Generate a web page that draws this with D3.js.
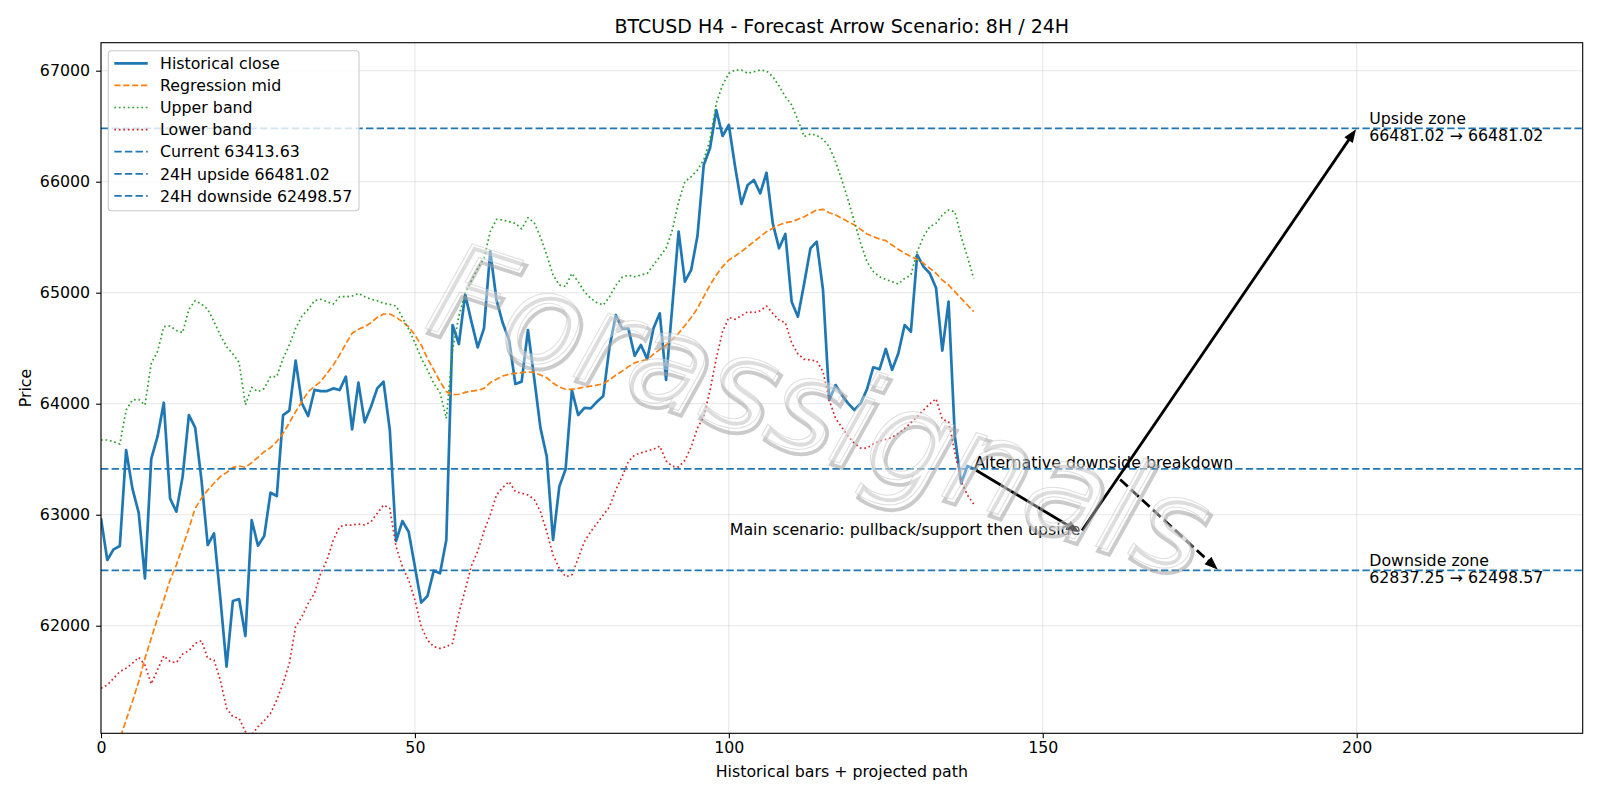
<!DOCTYPE html>
<html>
<head>
<meta charset="utf-8">
<script src="https://cdn.jsdelivr.net/npm/d3@7"></script>
<style>
  body { margin: 0; background: #fff; }
  text { font-family: "DejaVu Sans", sans-serif; }
</style>
</head>
<body>
<svg id="chart" width="1600" height="800"></svg>
<script>
// values
const closes = [62967,62592,62688,62718,63583,63237,63018,62427,63502,63703,
  64009,63147,63027,63343,63898,63784,63313,62727,62832,62253,
  61631,62222,62240,61907,62952,62721,62808,63198,63168,63898,
  63937,64388,64003,63889,64124,64114,64114,64138,64123,64244,
  63769,64190,63832,63973,64138,64198,63763,62763,62943,62847,
  62532,62208,62268,62496,62472,62772,64709,64538,64985,64739,
  64508,64679,65370,64934,64724,64574,64178,64199,64664,64229,
  63780,63523,62772,63253,63410,64123,63898,63962,63958,64018,
  64070,64514,64799,64676,64676,64432,64529,64402,64679,64814,
  64214,64880,65550,65100,65205,65510,66150,66301,66646,66412,
  66511,66135,65799,65970,66015,65895,66081,65625,65400,65529,
  64919,64784,65084,65400,65460,65024,64033,64168,64078,64003,
  63943,64003,64130,64328,64310,64493,64304,64454,64709,64649,
  65340,65235,65175,65045,64478,64919,63703,63283,63439,63413.63];

const mids = [60470,60640,60810,60980,61150,61316,61496,61706,61886,62066,
  62232,62412,62547,62712,62877,63057,63147,63222,63283,63343,
  63379,63427,63439,63427,63469,63517,63568,63604,63658,63733,
  63829,63928,64018,64108,64155,64199,64274,64349,64439,64540,
  64634,64670,64694,64730,64778,64808,64808,64778,64739,64694,
  64619,64529,64409,64304,64199,64109,64082,64085,64102,64114,
  64120,64138,64190,64220,64250,64266,64274,64280,64286,64282,
  64258,64234,64186,64150,64130,64130,64138,64150,64158,64167,
  64180,64214,64258,64293,64334,64368,64386,64397,64446,64487,
  64529,64577,64634,64704,64776,64859,64964,65069,65159,65235,
  65295,65331,65370,65415,65460,65505,65550,65580,65610,65631,
  65640,65661,65685,65715,65745,65751,65721,65700,65670,65640,
  65610,65571,65529,65505,65484,65469,65430,65391,65355,65325,
  65301,65265,65220,65175,65114,65069,65009,64949,64889,64829];

const uppers = [63673,63673,63658,63637,63943,64033,64039,63988,64364,64469,
  64694,64700,64660,64640,64850,64928,64898,64850,64739,64619,
  64514,64448,64370,63990,64147,64108,64138,64244,64244,64409,
  64529,64679,64790,64850,64928,64940,64919,64898,64964,64964,
  64970,64994,64964,64940,64928,64904,64895,64880,64778,64673,
  64550,64409,64304,64184,64099,63868,64484,64790,64994,65108,
  65220,65310,65550,65661,65655,65640,65625,65574,65676,65631,
  65500,65340,65160,65069,65057,65174,65099,65009,64949,64910,
  64889,64964,65065,65138,65159,65144,65159,65174,65250,65325,
  65400,65565,65820,66000,66045,66105,66195,66376,66706,66871,
  66976,67006,67006,66976,66991,67006,66997,66946,66862,66766,
  66691,66556,66406,66430,66418,66382,66316,66180,66015,65835,
  65640,65445,65280,65190,65144,65120,65099,65078,65129,65159,
  65370,65505,65595,65625,65700,65745,65730,65505,65325,65129];

const lowers = [61436,61466,61526,61586,61616,61661,61715,61646,61475,61601,
  61730,61676,61667,61745,61775,61841,61865,61706,61691,61511,
  61256,61181,61166,61045,61015,61090,61144,61210,61331,61481,
  61661,61991,62081,62201,62292,62472,62592,62772,62892,62907,
  62907,62916,62907,62937,63012,63087,63057,62712,62532,62412,
  62232,61991,61871,61811,61796,61811,61841,62111,62322,62540,
  62670,62850,63000,63178,63246,63298,63208,63193,63178,63138,
  63027,62847,62637,62517,62442,62457,62607,62757,62847,62922,
  62997,63072,63223,63343,63480,63538,63557,63575,63590,63619,
  63485,63436,63430,63490,63610,63780,63883,64120,64409,64649,
  64778,64760,64793,64829,64820,64838,64880,64814,64754,64730,
  64550,64448,64400,64394,64385,64289,64030,63868,63787,63709,
  63643,63600,63600,63637,63664,63679,63697,63733,63775,63829,
  63883,63943,63997,64045,63859,63838,63560,63298,63177,63096];

const levelNames = ["Current", "24H upside", "24H downside"];
const levelValues = [63413.63, 66481.02, 62498.57];

// projected path (bar index, price)
const mainPath = [[139, 63413.63], [156, 62837.25], [200, 66481.02]];
const altPath = [[162, 63334], [178, 62498.57]];

const xTicks = [0, 50, 100, 150, 200];
const yTicks = [62000, 63000, 64000, 65000, 66000, 67000];
const xDomain = [0, 236];
const yDomain = [61030.7, 67252.3];

const title = "BTCUSD H4 - Forecast Arrow Scenario: 8H / 24H";
const watermark = "Forassignals";

const pL = 101, pR = 1582.7, pT = 42.7, pB = 733.3;
const fs = 15.8;

const svg = d3.select("#chart");
const x = d3.scaleLinear().domain(xDomain).range([pL, pR]);
const y = d3.scaleLinear().domain(yDomain).range([pB, pT]);

svg.append("rect").attr("width", 1600).attr("height", 800).attr("fill", "#fff");

svg.append("defs").append("clipPath").attr("id", "plot")
  .append("rect")
  .attr("x", pL).attr("y", pT)
  .attr("width", pR - pL).attr("height", pB - pT);

// grid
const grid = svg.append("g").attr("stroke", "#b0b0b0").attr("stroke-opacity", 0.3).attr("stroke-width", 1.1);
grid.selectAll(".gx").data(xTicks).join("line")
  .attr("x1", d => x(d)).attr("x2", d => x(d)).attr("y1", pT).attr("y2", pB);
grid.selectAll(".gy").data(yTicks).join("line")
  .attr("x1", pL).attr("x2", pR).attr("y1", d => y(d)).attr("y2", d => y(d));

const plot = svg.append("g").attr("clip-path", "url(#plot)");

const line = d3.line().x((d, i) => x(i)).y(d => y(d));

const series = [
  {data: closes, color: "#1f77b4", width: 2.7, dash: null},
  {data: mids, color: "#ff7f0e", width: 1.7, dash: "6.2,2.7"},
  {data: uppers, color: "#2ca02c", width: 1.7, dash: "1.7,2.8"},
  {data: lowers, color: "#d62728", width: 1.7, dash: "1.7,2.8"}
];
series.forEach(s => {
  plot.append("path")
    .attr("d", line(s.data))
    .attr("fill", "none")
    .attr("stroke", s.color)
    .attr("stroke-width", s.width)
    .attr("stroke-linejoin", "round")
    .attr("stroke-dasharray", s.dash);
});

// horizontal levels
plot.selectAll(".lvl").data(levelValues).join("line")
  .attr("x1", pL).attr("x2", pR)
  .attr("y1", d => y(d)).attr("y2", d => y(d))
  .attr("stroke", "#1f77b4").attr("stroke-width", 1.7)
  .attr("stroke-dasharray", "7.4,3.2");

// arrows
function arrow(p0, p1, dashed) {
  let x0 = x(p0[0]), y0 = y(p0[1]), x1 = x(p1[0]), y1 = y(p1[1]);
  const len = Math.hypot(x1 - x0, y1 - y0);
  const ux = (x1 - x0) / len, uy = (y1 - y0) / len;
  x0 += ux * 2.8; y0 += uy * 2.8;
  x1 -= ux * 2.8; y1 -= uy * 2.8;
  const hl = 11, hw = 4.2;
  const bx = x1 - ux * hl, by = y1 - uy * hl;
  plot.append("line")
    .attr("x1", x0).attr("y1", y0).attr("x2", bx + ux * 1).attr("y2", by + uy * 1)
    .attr("stroke", "#000").attr("stroke-width", 2.8)
    .attr("stroke-dasharray", dashed ? "10.4,4.5" : null);
  plot.append("path")
    .attr("d", `M${x1},${y1}L${bx - uy * hw},${by + ux * hw}L${bx + uy * hw},${by - ux * hw}Z`)
    .attr("fill", "#000").attr("stroke", "#000").attr("stroke-width", 1.2)
    .attr("stroke-linejoin", "miter");
}
arrow(mainPath[0], mainPath[1], false);
arrow(mainPath[1], mainPath[2], false);
arrow(altPath[0], altPath[1], true);

// annotation texts
svg.append("text")
  .attr("x", x(mainPath[1][0])).attr("y", y(mainPath[1][1]) + 2.5)
  .attr("text-anchor", "end").attr("font-size", fs)
  .text("Main scenario: pullback/support then upside");
svg.append("text")
  .attr("x", x(mainPath[0][0]) + 0.5).attr("y", y(mainPath[0][1]) - 1)
  .attr("font-size", fs)
  .text("Alternative downside breakdown");

function zoneLabel(label, from, to, value) {
  const t = svg.append("text").attr("font-size", fs);
  t.append("tspan").attr("x", x(202)).attr("y", y(value) - 4).text(label);
  t.append("tspan").attr("x", x(202)).attr("y", y(value) + 12.6)
    .text(from.toFixed(2) + " \u2192 " + to.toFixed(2));
}
zoneLabel("Upside zone", levelValues[1], levelValues[1], levelValues[1]);
zoneLabel("Downside zone", mainPath[1][1], levelValues[2], levelValues[2]);

// watermark
const wm = svg.append("g").attr("transform", "translate(806,452) rotate(18)");
wm.append("text").text(watermark)
  .attr("transform", "translate(4,4)")
  .attr("text-anchor", "middle")
  .attr("font-size", 130).attr("font-style", "italic")
  .attr("fill", "none").attr("stroke", "#a0a0a0").attr("stroke-opacity", 0.55)
  .attr("stroke-width", 3.8);
wm.append("text").text(watermark)
  .attr("text-anchor", "middle")
  .attr("font-size", 130).attr("font-style", "italic")
  .attr("fill", "#fff").attr("fill-opacity", 0.35)
  .attr("stroke", "#c4c4c4").attr("stroke-opacity", 0.55).attr("stroke-width", 1);

// axes
const xAxis = svg.append("g")
  .attr("transform", `translate(0,${pB})`)
  .call(d3.axisBottom(x).tickValues(xTicks).tickSize(4.9).tickPadding(4).tickSizeOuter(0).tickFormat(d3.format("d")));
const yAxis = svg.append("g")
  .attr("transform", `translate(${pL},0)`)
  .call(d3.axisLeft(y).tickValues(yTicks).tickSize(4.9).tickPadding(6).tickSizeOuter(0).tickFormat(d3.format("d")));
[xAxis, yAxis].forEach(a => {
  a.attr("font-family", "DejaVu Sans").attr("font-size", fs);
  a.select(".domain").remove();
  a.selectAll("line").attr("stroke", "#000").attr("stroke-width", 1.1);
  a.selectAll("text").attr("fill", "#000");
});

svg.append("rect")
  .attr("x", pL).attr("y", pT).attr("width", pR - pL).attr("height", pB - pT)
  .attr("fill", "none").attr("stroke", "#000").attr("stroke-width", 1.1);

svg.append("text")
  .attr("x", (pL + pR) / 2).attr("y", 32.5)
  .attr("text-anchor", "middle").attr("font-size", 19)
  .text(title);
svg.append("text")
  .attr("x", (pL + pR) / 2).attr("y", 777)
  .attr("text-anchor", "middle").attr("font-size", fs)
  .text("Historical bars + projected path");
svg.append("text")
  .attr("transform", `translate(31,${(pT + pB) / 2}) rotate(-90)`)
  .attr("text-anchor", "middle").attr("font-size", fs)
  .text("Price");

// legend
const legendLabels = ["Historical close", "Regression mid", "Upper band", "Lower band"]
  .concat(levelNames.map((n, i) => n + " " + levelValues[i].toFixed(2)));
const legendColors = ["#1f77b4", "#ff7f0e", "#2ca02c", "#d62728", "#1f77b4", "#1f77b4", "#1f77b4"];
const legendDash = [null, "6.2,2.7", "1.7,2.8", "1.7,2.8", "7.4,3.2", "7.4,3.2", "7.4,3.2"];
const legendWidth = [2.7, 1.7, 1.7, 1.7, 1.7, 1.7, 1.7];

const lg = svg.append("g");
lg.append("rect")
  .attr("x", 108.3).attr("y", 50.7).attr("width", 250.7).attr("height", 160)
  .attr("rx", 3).attr("fill", "#fff").attr("fill-opacity", 0.8)
  .attr("stroke", "#cccccc").attr("stroke-width", 1.1);
const rows = lg.selectAll(".row").data(legendLabels).join("g")
  .attr("transform", (d, i) => `translate(0,${63.3 + i * 22.1})`);
rows.append("line")
  .attr("x1", 114.3).attr("x2", 147.7).attr("y1", 0).attr("y2", 0)
  .attr("stroke", (d, i) => legendColors[i])
  .attr("stroke-width", (d, i) => legendWidth[i])
  .attr("stroke-dasharray", (d, i) => legendDash[i]);
rows.append("text")
  .attr("x", 160).attr("dy", "0.36em").attr("font-size", fs)
  .text(d => d);
</script>
</body>
</html>
